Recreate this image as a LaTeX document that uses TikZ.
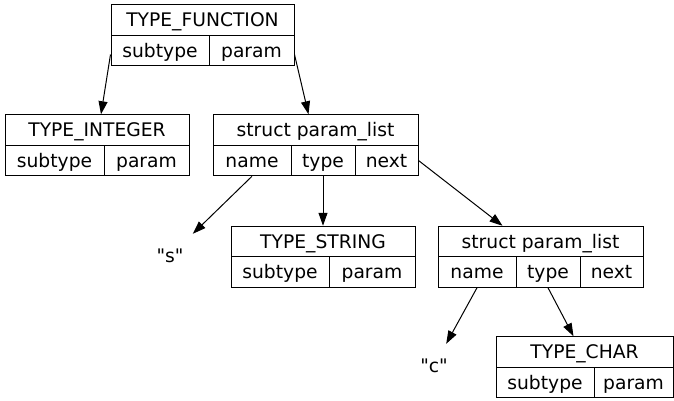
\documentclass[tikz,border=0pt]{standalone}
\usepackage{fontspec}
\setmainfont{DejaVu Sans}
\newfontfamily\plainquote{DejaVu Sans}
\usepackage{tikz}
\usetikzlibrary{arrows.meta,calc}

\begin{document}
\begin{tikzpicture}[x=1pt,y=-1pt,
  font=\fontsize{18.7}{22}\selectfont,
  cell/.style={draw,line width=1pt,minimum height=30.5pt,inner sep=0pt,
    text height=13.6pt,text depth=0.4pt},
  word/.style={minimum width=72pt,minimum height=44pt,inner sep=0pt,
    text height=13.6pt,text depth=0.4pt,font=\plainquote\fontsize{18.7}{22}\selectfont},
  ptr/.style={-{Triangle[length=13pt,width=9pt]},line width=1pt}]
  \useasboundingbox (0,0) rectangle (674,400);

  % TYPE_FUNCTION record
  \node[cell,minimum width=183pt] (fn) at (202.5,20) {TYPE\_FUNCTION};
  \node[cell,minimum width=98pt] (fn-sub) at (160,50.5) {subtype};
  \node[cell,minimum width=85pt] (fn-par) at (251.5,50.5) {param};

  % TYPE_INTEGER record
  \node[cell,minimum width=184pt] (int) at (97,130) {TYPE\_INTEGER};
  \node[cell,minimum width=99pt] (int-sub) at (54.5,160.5) {subtype};
  \node[cell,minimum width=85pt] (int-par) at (146.5,160.5) {param};

  % first param_list
  \node[cell,minimum width=205pt] (pl1) at (315.5,130) {struct param\_list};
  \node[cell,minimum width=78pt] (pl1-name) at (252,160.5) {name};
  \node[cell,minimum width=64pt] (pl1-type) at (323,160.5) {type};
  \node[cell,minimum width=63pt] (pl1-next) at (386.5,160.5) {next};

  \node[word] (s) at (170,256) {"s"};

  % TYPE_STRING record
  \node[cell,minimum width=184pt] (str) at (323,241.5) {TYPE\_STRING};
  \node[cell,minimum width=98pt] (str-sub) at (280,272) {subtype};
  \node[cell,minimum width=86pt] (str-par) at (372,272) {param};

  % second param_list
  \node[cell,minimum width=205pt] (pl2) at (540.5,241.5) {struct param\_list};
  \node[cell,minimum width=78pt] (pl2-name) at (477,272) {name};
  \node[cell,minimum width=64pt] (pl2-type) at (548,272) {type};
  \node[cell,minimum width=63pt] (pl2-next) at (611.5,272) {next};

  \node[word] (c) at (434,366) {"c"};

  % TYPE_CHAR record
  \node[cell,minimum width=177pt] (chr) at (584.5,352) {TYPE\_CHAR};
  \node[cell,minimum width=98pt] (chr-sub) at (545,382.5) {subtype};
  \node[cell,minimum width=79pt] (chr-par) at (633.5,382.5) {param};

  % pointers
  \draw[ptr] ([yshift=-4pt]fn-sub.west) -- ($(int.north)+(4,0)$);
  \draw[ptr] ([yshift=-4pt]fn-par.east) -- ($(pl1.north)+(-7,0)$);
  \draw[ptr] (pl1-name.south) -- (s);
  \draw[ptr] (pl1-type.south) -- (str.north);
  \draw[ptr] (pl1-next.east) -- ($(pl2.north)+(-38,0)$);
  \draw[ptr] (pl2-name.south) -- (c);
  \draw[ptr] (pl2-type.south) -- ($(chr.north)+(-11,0)$);
\end{tikzpicture}
\end{document}
